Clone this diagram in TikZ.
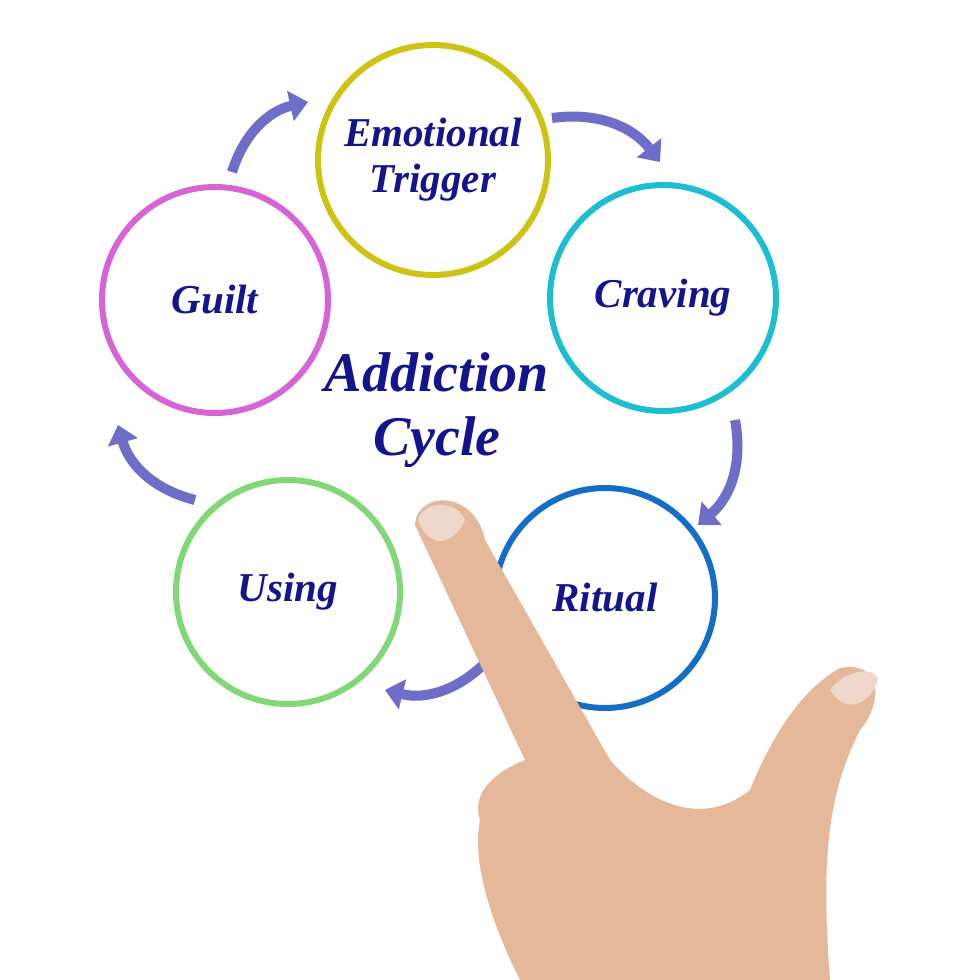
\documentclass[tikz,border=0pt]{standalone}
\usepackage{fontspec}
\setmainfont{Liberation Serif}
\usetikzlibrary{arrows.meta}
\definecolor{txt}{RGB}{20,20,140}
\definecolor{arr}{RGB}{110,110,200}
\definecolor{cy}{RGB}{205,195,20}
\definecolor{cc}{RGB}{30,190,210}
\definecolor{cb}{RGB}{20,110,200}
\definecolor{cg}{RGB}{130,215,120}
\definecolor{cm}{RGB}{215,100,215}
\definecolor{skin}{RGB}{228,184,152}
\definecolor{nail}{RGB}{240,215,205}
\tikzset{ring/.style={circle,line width=3pt,font=\bfseries\itshape\fontsize{20.5}{23}\selectfont,text=txt,align=center,inner sep=0pt},
cyc/.style={arr,line width=5pt,-{Triangle[length=9pt,width=15pt]}}}
\begin{document}
\begin{tikzpicture}[x=0.5pt,y=-0.5pt]
\useasboundingbox (0,0) rectangle (980,980);
\node[ring,draw=cy,minimum size=115pt] (e) at (433,160) {Emotional\\Trigger};
\node[ring,draw=cc,minimum size=113pt] (c) at (663,298) {Craving};
\node[ring,draw=cb,minimum size=110pt] (r) at (605,598) {Ritual};
\node[ring,draw=cg,minimum size=112pt] (u) at (288,592) {Using};
\node[ring,draw=cm,minimum size=113pt] (g) at (215,300) {Guilt};
\node[font=\bfseries\itshape\fontsize{28}{32}\selectfont,text=txt,align=center] (t) at (437,410) {Addiction\\Cycle};
\coordinate (a1) at (232,172); \coordinate (b1) at (308,102);
\coordinate (a2) at (552,118); \coordinate (b2) at (660,162);
\coordinate (a3) at (735,420); \coordinate (b3) at (698,525);
\coordinate (a4) at (488,660); \coordinate (b4) at (385,690);
\coordinate (a5) at (195,500); \coordinate (b5) at (118,425);
\draw[cyc] (a1) to[bend left=30] (b1);
\draw[cyc] (a2) to[bend left=30] (b2);
\draw[cyc] (a3) to[bend left=30] (b3);
\draw[cyc] (a4) to[bend left=30] (b4);
\draw[cyc] (a5) to[bend left=30] (b5);
% hand
\fill[skin] (415,525) .. controls (417,490) and (475,490) .. (485,540)
 -- (610,760) .. controls (645,800) and (700,830) .. (750,790)
 .. controls (770,740) and (800,690) .. (840,668)
 .. controls (880,660) and (885,700) .. (860,730)
 .. controls (830,790) and (820,850) .. (830,980)
 -- (520,980) .. controls (500,940) and (470,870) .. (480,820)
 .. controls (470,790) and (500,770) .. (525,760)
 -- cycle;
\fill[nail] (418,520) .. controls (423,500) and (458,500) .. (465,520) .. controls (452,548) and (428,548) .. (418,520) -- cycle;
\fill[nail] (830,690) .. controls (845,670) and (875,665) .. (878,680) .. controls (870,705) and (845,715) .. (830,690) -- cycle;
\end{tikzpicture}
\end{document}
